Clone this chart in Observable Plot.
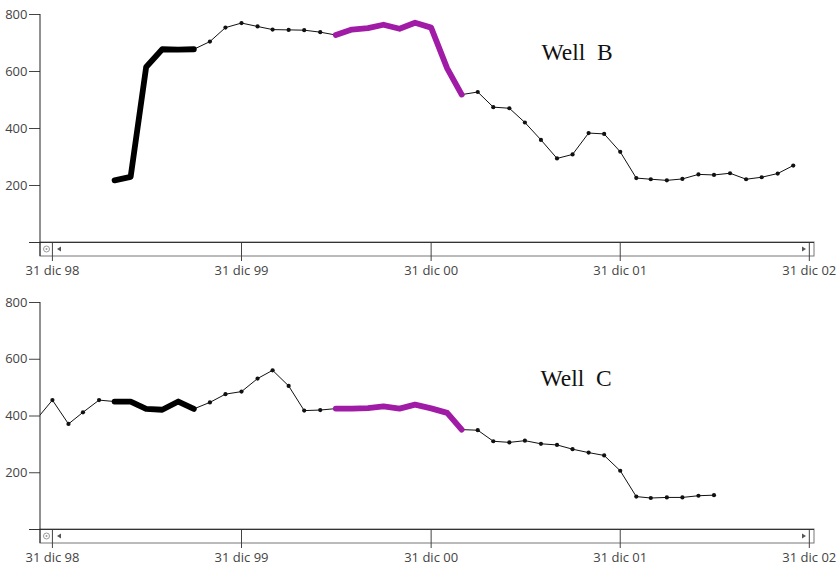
<!DOCTYPE html>
<html><head><meta charset="utf-8">
<script src="https://cdn.jsdelivr.net/npm/d3@7"></script>
<script src="https://cdn.jsdelivr.net/npm/@observablehq/plot@0.6"></script>
<style>
html,body{margin:0;padding:0;background:#fff;}
#charts svg{display:block;}
text.welllabel, .welllabel text{white-space:pre;}
</style></head><body><div id="charts"></div>
<script>
// ---- data ----
const xTickDates = ["1998-12-31","1999-12-31","2000-12-31","2001-12-31","2002-12-31"];
const xTickLabels = ["31 dic 98","31 dic 99","31 dic 00","31 dic 01","31 dic 02"];
const yTicks = [200, 400, 600, 800];
const yDomain = [0, 800];
const xDomain = ["1998-12-08", "2003-01-10"];

const wellBDates = [
  "1999-04-30","1999-05-31","1999-06-30","1999-07-31","1999-08-31","1999-09-30","1999-10-31","1999-11-30","1999-12-31",
  "2000-01-31","2000-02-29","2000-03-31","2000-04-30","2000-05-31","2000-06-30","2000-07-31","2000-08-31","2000-09-30","2000-10-31","2000-11-30","2000-12-31",
  "2001-01-31","2001-02-28","2001-03-31","2001-04-30","2001-05-31","2001-06-30","2001-07-31","2001-08-31","2001-09-30","2001-10-31","2001-11-30","2001-12-31",
  "2002-01-31","2002-02-28","2002-03-31","2002-04-30","2002-05-31","2002-06-30","2002-07-31","2002-08-31","2002-09-30","2002-10-31","2002-11-30"
];
const wellBValues = [
  218, 230, 616, 678, 677, 678, 705, 754, 770,
  758, 747, 746, 745, 738, 728, 747, 752, 764, 750, 771, 754,
  611, 519, 528, 475, 471, 421, 360, 295, 309, 384, 381, 318,
  226, 222, 218, 223, 239, 237, 243, 222, 229, 242, 270
];

const wellCDates = [
  "1998-11-30","1998-12-31",
  "1999-01-31","1999-02-28","1999-03-31","1999-04-30","1999-05-31","1999-06-30","1999-07-31","1999-08-31","1999-09-30","1999-10-31","1999-11-30","1999-12-31",
  "2000-01-31","2000-02-29","2000-03-31","2000-04-30","2000-05-31","2000-06-30","2000-07-31","2000-08-31","2000-09-30","2000-10-31","2000-11-30","2000-12-31",
  "2001-01-31","2001-02-28","2001-03-31","2001-04-30","2001-05-31","2001-06-30","2001-07-31","2001-08-31","2001-09-30","2001-10-31","2001-11-30","2001-12-31",
  "2002-01-31","2002-02-28","2002-03-31","2002-04-30","2002-05-31","2002-06-30"
];
const wellCValues = [
  388, 456,
  372, 413, 456, 451, 451, 425, 422, 451, 425, 448, 477, 486,
  532, 561, 506, 419, 421, 426, 426, 428, 434, 426, 440, 427,
  411, 352, 350, 311, 307, 313, 302, 298, 283, 271, 261, 207,
  116, 111, 113, 113, 119, 121
];

const thickBlackRange = ["1999-04-30", "1999-09-30"];
const purpleRange = ["2000-06-30", "2001-02-28"];
const wellNames = ["Well  B", "Well  C"];

// ---- styles ----
const PURPLE = "#a01ca6";
const tickLabelMap = new Map(xTickDates.map((d, i) => [+new Date(d), xTickLabels[i]]));

function makeChart(dates, values, name, opts) {
  const data = dates.map((d, i) => ({date: new Date(d), value: values[i]}));
  const inRange = r => data.filter(d => d.date >= new Date(r[0]) && d.date <= new Date(r[1]));
  const chart = Plot.plot({
    width: 839,
    height: opts.height,
    marginTop: opts.marginTop,
    marginBottom: opts.marginBottom,
    marginLeft: 40,
    marginRight: 25,
    style: {fontFamily: "'Open Sans', sans-serif", fontSize: "13px", background: "#fff", color: "#333"},
    x: {type: "utc", domain: xDomain.map(d => new Date(d))},
    y: {domain: yDomain},
    marks: [
      Plot.axisY(yTicks, {tickSize: 11, tickPadding: 2, fontSize: 13, color: "#444", label: null}),
      Plot.axisX(xTickDates.map(d => new Date(d)), {tickSize: 19, tickPadding: 4, fontSize: 13, color: "#444", label: null,
        tickFormat: d => tickLabelMap.get(+d)}),
      Plot.ruleY([0], {insetLeft: -11, stroke: "#333"}),
      Plot.line(data, {x: "date", y: "value", stroke: "#111", strokeWidth: 1, clip: true}),
      Plot.dot(data, {x: "date", y: "value", r: 2.1, fill: "#111", stroke: "none", clip: true}),
      Plot.line(inRange(thickBlackRange), {x: "date", y: "value", stroke: "#000", strokeWidth: 5.8, clip: true}),
      Plot.line(inRange(purpleRange), {x: "date", y: "value", stroke: PURPLE, strokeWidth: 5.8, clip: true}),
      Plot.text([name], {frameAnchor: "top-left", dx: opts.labelDx, dy: opts.labelDy, textAnchor: "start",
        fontFamily: "'Liberation Serif', 'Times New Roman', serif", fontSize: 23.5, fill: "#111", className: "welllabel"})
    ]
  });
  // scroll-bar style strip and y axis line, placed from the scales
  const xs = chart.scale("x"), ys = chart.scale("y");
  const [x0, x1] = xs.range;
  const y0 = ys.apply(0), yTop = ys.apply(yDomain[1]);
  const svg = d3.select(chart);
  const g = svg.insert("g", "g");
  g.append("rect").attr("x", x0).attr("y", y0).attr("width", x1 - x0).attr("height", 14)
    .attr("fill", "#fff").attr("stroke", "#777");
  g.append("circle").attr("cx", x0 + 6.5).attr("cy", y0 + 7).attr("r", 3)
    .attr("fill", "none").attr("stroke", "#999");
  g.append("circle").attr("cx", x0 + 6.5).attr("cy", y0 + 7).attr("r", 1).attr("fill", "#999");
  g.append("path").attr("d", `M${x0 + 17},${y0 + 7}L${x0 + 21},${y0 + 4.5}L${x0 + 21},${y0 + 9.5}Z`).attr("fill", "#555");
  g.append("path").attr("d", `M${x1 - 8},${y0 + 7}L${x1 - 12},${y0 + 4.5}L${x1 - 12},${y0 + 9.5}Z`).attr("fill", "#555");
  svg.append("line").attr("x1", x0).attr("x2", x0).attr("y1", yTop).attr("y2", y0 + 14)
    .attr("stroke", "#222");
  return chart;
}

const root = document.getElementById("charts");
root.appendChild(makeChart(wellBDates, wellBValues, wellNames[0],
  {height: 287, marginTop: 14, marginBottom: 45, labelDx: 501, labelDy: 29}));
root.appendChild(makeChart(wellCDates, wellCValues, wellNames[1],
  {height: 282, marginTop: 15, marginBottom: 40, labelDx: 500, labelDy: 67}));
</script>
</body></html>
